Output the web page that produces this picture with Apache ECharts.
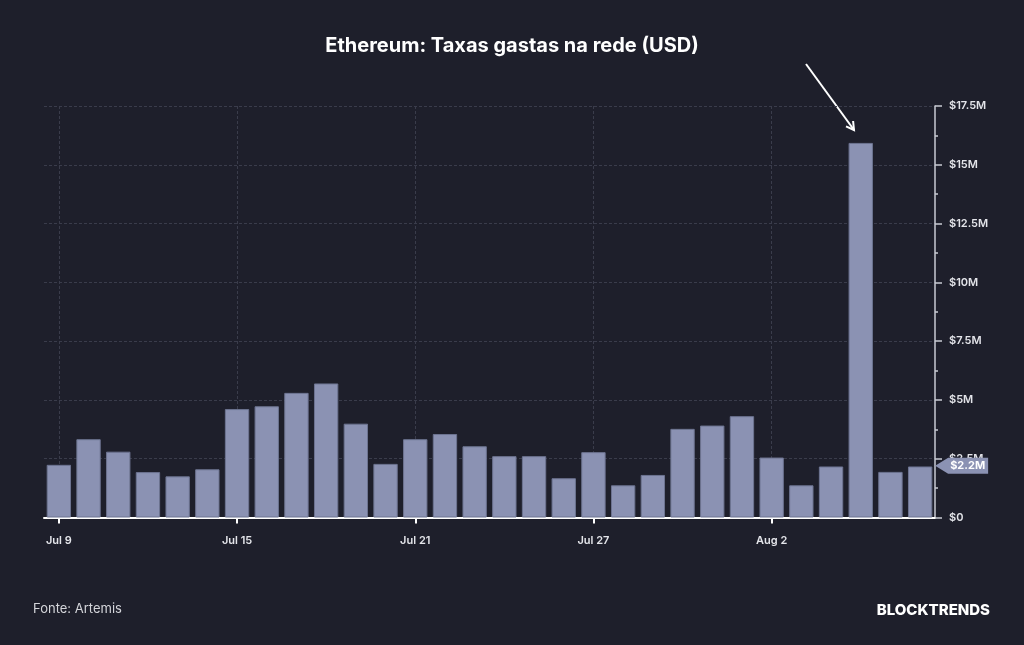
<!DOCTYPE html>
<html>
<head>
<meta charset="utf-8">
<script src="https://cdn.jsdelivr.net/npm/echarts@6/dist/echarts.min.js"></script>
<style>
  html, body { margin: 0; padding: 0; background: #1e1f2b; }
  #chart { width: 1024px; height: 645px; }
</style>
</head>
<body>
<div id="chart"></div>
<script>
// dias (Jul 9 - Aug 7)
const days = [
  'Jul 9', 'Jul 10', 'Jul 11', 'Jul 12', 'Jul 13', 'Jul 14', 'Jul 15', 'Jul 16', 'Jul 17', 'Jul 18',
  'Jul 19', 'Jul 20', 'Jul 21', 'Jul 22', 'Jul 23', 'Jul 24', 'Jul 25', 'Jul 26', 'Jul 27', 'Jul 28',
  'Jul 29', 'Jul 30', 'Jul 31', 'Aug 1', 'Aug 2', 'Aug 3', 'Aug 4', 'Aug 5', 'Aug 6', 'Aug 7'
]
// taxas em milhoes de USD
const fees = [
  2.24, 3.33, 2.80, 1.93, 1.75, 2.05, 4.61, 4.73, 5.30, 5.70,
  3.99, 2.28, 3.33, 3.55, 3.03, 2.61, 2.61, 1.67, 2.78, 1.37,
  1.81, 3.77, 3.91, 4.31, 2.55, 1.37, 2.17, 15.93, 1.94, 2.17
]
const lastLabel = 2.2
const yTicks = { min: 0, max: 17.5, interval: 2.5 }

const font = 'Inter, "Noto Sans", sans-serif'
const barColor = '#8b92b3'

const chart = echarts.init(document.getElementById('chart'))

const option = {
  backgroundColor: '#1e1f2b',
  animation: false,
  textStyle: { fontFamily: font },
  title: [
    {
      text: 'Ethereum: Taxas gastas na rede (USD)',
      left: 'center',
      top: 31,
      textStyle: { color: '#ffffff', fontSize: 20, fontWeight: 700, fontFamily: font }
    },
    {
      text: 'Fonte: Artemis',
      left: 28,
      top: 598,
      textStyle: { color: '#d4d5da', fontSize: 13, fontWeight: 400, fontFamily: font }
    },
    {
      text: 'BLOCKTRENDS',
      right: 29,
      top: 598,
      textStyle: { color: '#ffffff', fontSize: 15, fontWeight: 800, fontFamily: font }
    }
  ],
  grid: { left: 44, right: 89, top: 106, bottom: 127.5, containLabel: false },
  xAxis: {
    type: 'category',
    data: days,
    boundaryGap: true,
    axisLine: { lineStyle: { color: '#ffffff', width: 2 } },
    axisTick: { show: true, interval: 5, alignWithLabel: true, length: 6, lineStyle: { color: '#ffffff', width: 2 } },
    axisLabel: { interval: 5, color: '#e4e5ea', fontSize: 11, fontWeight: 600, margin: 18, fontFamily: font },
    splitLine: {
      show: true,
      interval: 5,
      alignWithLabel: true,
      lineStyle: { color: '#3a3c4b', type: [3, 2], width: 1 }
    }
  },
  yAxis: {
    type: 'value',
    position: 'right',
    min: yTicks.min,
    max: yTicks.max,
    interval: yTicks.interval,
    axisLine: { show: true, lineStyle: { color: '#c9cbd4', width: 1.5 } },
    axisTick: { show: true, length: 7, lineStyle: { color: '#c9cbd4', width: 1.5 } },
    minorTick: { show: true, splitNumber: 2, length: 3, lineStyle: { color: '#c9cbd4', width: 1.5 } },
    axisLabel: {
      color: '#e4e5ea',
      fontSize: 11,
      fontWeight: 600,
      margin: 14,
      fontFamily: font,
      formatter: v => (v === 0 ? '$0' : '$' + v + 'M')
    },
    splitLine: { show: true, lineStyle: { color: '#3a3c4b', type: [3, 2], width: 1 } }
  },
  series: [
    {
      type: 'bar',
      data: fees,
      barCategoryGap: '18%',
      itemStyle: { color: barColor, borderColor: '#6d7491', borderWidth: 1 },
      silent: true,
      markPoint: {
        silent: true,
        symbol: 'path://M0,8 L13,0 L53,0 L53,16 L13,16 Z',
        symbolSize: [53, 16],
        symbolKeepAspect: false,
        symbolOffset: [41.5, 0],
        itemStyle: { color: barColor },
        label: {
          show: true,
          position: 'inside',
          offset: [6, 0],
          formatter: '$' + lastLabel + 'M',
          color: '#ffffff',
          fontSize: 11,
          fontWeight: 700,
          fontFamily: font
        },
        data: [{ coord: [days.length - 1, lastLabel] }]
      }
    }
  ],
  graphic: [
    // seta apontando para o pico
    {
      type: 'line',
      shape: { x1: 806, y1: 64, x2: 854, y2: 130 },
      style: { stroke: '#ffffff', lineWidth: 2 },
      silent: true
    },
    {
      type: 'polyline',
      shape: { points: [[846, 126.3], [854, 130], [853.1, 121]] },
      style: { stroke: '#ffffff', lineWidth: 2, fill: null },
      silent: true
    }
  ]
}

chart.setOption(option)
</script>
</body>
</html>
